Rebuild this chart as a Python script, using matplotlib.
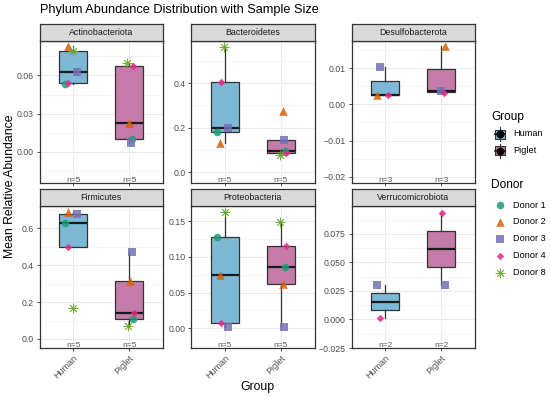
import numpy as np
import matplotlib
matplotlib.use("Agg")
import matplotlib.pyplot as plt
from matplotlib.patches import Rectangle
from matplotlib.lines import Line2D
from matplotlib.ticker import FixedLocator

plt.rcParams['font.family'] = ['Liberation Sans', 'DejaVu Sans']

# ---------------- data ----------------
groups = ["Human", "Piglet"]
donors = ["Donor 1", "Donor 2", "Donor 3", "Donor 4", "Donor 8"]
phyla = ["Actinobacteriota", "Bacteroidetes", "Desulfobacterota",
         "Firmicutes", "Proteobacteria", "Verrucomicrobiota"]
nan = np.nan
actino_human = [0.0534, 0.0834, 0.0627, 0.0540, 0.0790]
actino_piglet = [0.0098, 0.0229, 0.0066, 0.0671, 0.0698]
bact_human = [0.180, 0.133, 0.198, 0.403, 0.564]
bact_piglet = [0.097, 0.275, 0.145, 0.085, 0.077]
desulfo_human = [nan, 0.0026, 0.0104, 0.0025, nan]
desulfo_piglet = [nan, 0.0160, 0.0037, 0.0032, nan]
firm_human = [0.627, 0.690, 0.676, 0.500, 0.170]
firm_piglet = [0.107, 0.316, 0.470, 0.139, 0.070]
proteo_human = [0.127, 0.0745, 0.0023, 0.007, 0.162]
proteo_piglet = [0.086, 0.062, 0.0023, 0.115, 0.148]
verruco_human = [nan, nan, 0.0303, 0.0009, nan]
verruco_piglet = [nan, nan, 0.0303, 0.0937, nan]

values = {
    "Actinobacteriota": (actino_human, actino_piglet),
    "Bacteroidetes": (bact_human, bact_piglet),
    "Desulfobacterota": (desulfo_human, desulfo_piglet),
    "Firmicutes": (firm_human, firm_piglet),
    "Proteobacteria": (proteo_human, proteo_piglet),
    "Verrucomicrobiota": (verruco_human, verruco_piglet),
}

# ---------------- styling / layout ----------------
jitter = {
    "Actinobacteriota": ([-0.145, -0.087, 0.06, -0.087, -0.01], [0.04, 0.0, 0.03, 0.07, -0.05]),
    "Bacteroidetes": ([-0.14, -0.08, 0.065, -0.07, -0.02], [0.08, 0.03, 0.06, 0.10, -0.01]),
    "Desulfobacterota": ([0, -0.14, -0.09, 0.05, 0], [0, 0.06, 0.0, 0.05, 0]),
    "Firmicutes": ([-0.146, -0.087, 0.06, -0.087, -0.01], [0.06, 0.01, 0.05, 0.09, -0.02]),
    "Proteobacteria": ([-0.14, -0.08, 0.065, -0.07, 0.0], [0.08, 0.03, 0.06, 0.10, -0.01]),
    "Verrucomicrobiota": ([0, 0, -0.14, -0.09, 0], [0, 0, 0.06, 0.02, 0]),
}
ylims = {
    "Actinobacteriota": (-0.0249, 0.0874),
    "Bacteroidetes": (-0.049, 0.59),
    "Desulfobacterota": (-0.0218, 0.01756),
    "Firmicutes": (-0.0488, 0.722),
    "Proteobacteria": (-0.0275, 0.1714),
    "Verrucomicrobiota": (-0.025, 0.0998),
}
yticks = {
    "Actinobacteriota": ([0, 0.03, 0.06], "{:.2f}"),
    "Bacteroidetes": ([0, 0.2, 0.4], "{:.1f}"),
    "Desulfobacterota": ([-0.02, -0.01, 0, 0.01], "{:.2f}"),
    "Firmicutes": ([0, 0.2, 0.4, 0.6], "{:.1f}"),
    "Proteobacteria": ([0, 0.05, 0.10, 0.15], "{:.2f}"),
    "Verrucomicrobiota": ([-0.025, 0, 0.025, 0.05, 0.075], "{:.3f}"),
}
group_fill = ["#7DB9D6", "#C47BA9"]
donor_colors = ["#1B9E77", "#D95F02", "#7570B3", "#E7298A", "#66A61E"]
donor_markers = ["o", "^", "s", "D", (8, 2, 0)]
donor_sizes = [30, 38, 28, 15, 42]

W, H = 550, 397
fig = plt.figure(figsize=(W / 100, H / 100), dpi=100)


def rect(l, t, r, b):
    return [l / W, 1 - b / H, (r - l) / W, (b - t) / H]


def draw_marker(ax, x, y, d, **kw):
    m = donor_markers[d]
    if isinstance(m, tuple):
        ax.scatter(x, y, marker=m, s=donor_sizes[d], color=donor_colors[d],
                   linewidths=0.6, alpha=0.9, **kw)
    else:
        ax.scatter(x, y, marker=m, s=donor_sizes[d], color=donor_colors[d],
                   alpha=0.85, linewidths=0, **kw)


col_lr = [(39.5, 163), (191, 314.5), (351.5, 475)]
row_tb = [((23.5, 40.7), (40.7, 183.3)), ((189, 205.7), (205.7, 348))]

grey20 = "#333333"
grey30 = "#4D4D4D"

for i, ph in enumerate(phyla):
    r, c = divmod(i, 3)
    l, rr = col_lr[c]
    (st, sb), (pt, pb) = row_tb[r]
    ax = fig.add_axes(rect(l, pt, rr, pb))
    sax = fig.add_axes(rect(l, st, rr, sb))
    sax.set_xticks([]); sax.set_yticks([])
    sax.set_facecolor("#D9D9D9")
    for s in sax.spines.values():
        s.set_color(grey20); s.set_linewidth(0.9)
    sax.text(0.5, 0.5, ph, ha="center", va="center", fontsize=6.4, color="#1A1A1A",
             transform=sax.transAxes)

    hv, pv = values[ph]
    data = []
    for g, arr in enumerate((hv, pv)):
        a = np.array(arr, dtype=float)
        data.append(a[~np.isnan(a)])

    bp = ax.boxplot(data, positions=[1, 2], widths=0.5, patch_artist=True,
                    showfliers=False, whis=1.5, zorder=2,
                    medianprops=dict(color="#1A1A1A", lw=1.6),
                    whiskerprops=dict(color=grey20, lw=0.9),
                    capprops=dict(lw=0), boxprops=dict(lw=0.9))
    for patch, fc in zip(bp["boxes"], group_fill):
        patch.set_facecolor(fc)
        patch.set_edgecolor(grey20)

    ax.set_xlim(0.4, 2.6)
    ax.set_ylim(*ylims[ph])
    tk, fmt = yticks[ph]
    ax.set_yticks(tk)
    ax.set_yticklabels([fmt.format(t).replace("-", "\u2212") for t in tk])
    minors = [(tk[k] + tk[k + 1]) / 2 for k in range(len(tk) - 1)]
    lo, hi = ylims[ph]
    step = tk[1] - tk[0]
    if tk[0] - step / 2 > lo:
        minors.insert(0, tk[0] - step / 2)
    if tk[-1] + step / 2 < hi:
        minors.append(tk[-1] + step / 2)
    ax.yaxis.set_minor_locator(FixedLocator(minors))
    ax.set_xticks([1, 2])
    if r == 1:
        ax.set_xticklabels(groups, rotation=45, ha="right", va="top",
                           rotation_mode="anchor", fontsize=6.5)
    else:
        ax.set_xticklabels([])
    ax.grid(True, which="major", color="#EBEBEB", lw=0.8, zorder=0)
    ax.grid(True, which="minor", axis="y", color="#F3F3F3", lw=0.5, zorder=0)
    ax.set_axisbelow(True)
    ax.tick_params(axis="both", which="major", length=2.5, width=0.6, color=grey20,
                   labelcolor=grey30, pad=1.5)
    ax.tick_params(axis="y", which="major", labelsize=6.3)
    ax.tick_params(axis="y", which="minor", length=0)
    for s in ax.spines.values():
        s.set_color(grey20); s.set_linewidth(0.9)

    for g, arr in enumerate((hv, pv)):
        jit = jitter[ph][g]
        for d in range(len(donors)):
            v = arr[d]
            if np.isnan(v):
                continue
            draw_marker(ax, g + 1 + jit[d], v, d, zorder=4)
        n = int(np.sum(~np.isnan(np.array(arr, dtype=float))))
        ax.text(g + 1, 0.018, f"n={n}", transform=ax.get_xaxis_transform(),
                ha="center", va="center", fontsize=6, color="#5A5A5A", clip_on=True,
                zorder=5)

# titles
fig.text(40 / W, 1 - 10.5 / H, "Phylum Abundance Distribution with Sample Size",
         fontsize=9.2, ha="left", va="center", color="black")
fig.text(257 / W, 1 - 387 / H, "Group", fontsize=8.8, ha="center", va="center")
fig.text(10 / W, 1 - 186 / H, "Mean Relative Abundance", fontsize=8.8,
         ha="center", va="center", rotation=90)

# legend (drawn in pixel coordinates)
lg = fig.add_axes([0, 0, 1, 1], zorder=10)
lg.set_xlim(0, W); lg.set_ylim(H, 0); lg.axis("off")
lg.text(491, 117, "Group", fontsize=8.6, ha="left", va="center")
for k, (g, fc) in enumerate(zip(groups, group_fill)):
    y = 134 + k * 16.7
    lg.add_line(Line2D([500, 500], [y - 7, y + 7], color=grey20, lw=0.8))
    lg.add_patch(Rectangle((495, y - 4.5), 10, 9, facecolor=fc, edgecolor=grey20, lw=0.8))
    lg.add_line(Line2D([495, 505], [y, y], color="#1A1A1A", lw=1.2))
    lg.scatter([500], [y], s=22, color="black", zorder=11)
    lg.text(513, y, g, fontsize=6.6, ha="left", va="center")
lg.text(491, 185, "Donor", fontsize=8.6, ha="left", va="center")
for d in range(len(donors)):
    y = 205 + d * 16.9
    draw_marker(lg, [500], [y], d)
    lg.text(513, y, donors[d], fontsize=6.6, ha="left", va="center")

fig.savefig("out.png", dpi=100, facecolor="white")
